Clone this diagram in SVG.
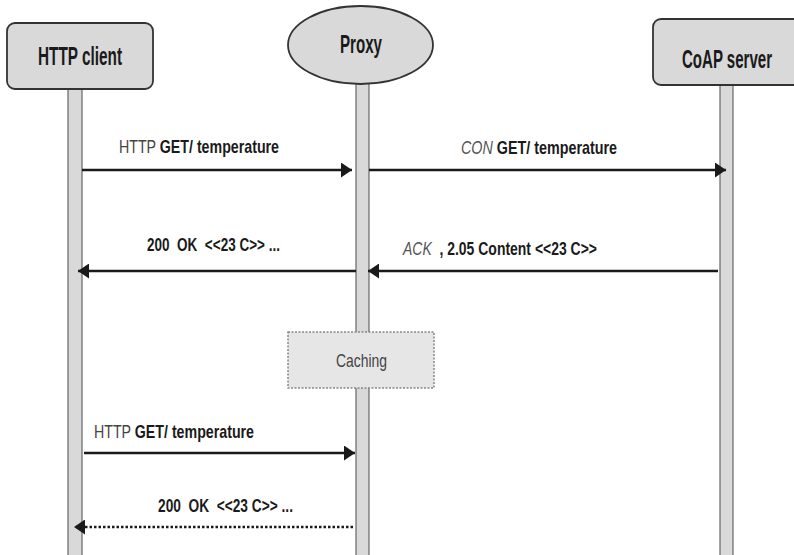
<svg xmlns="http://www.w3.org/2000/svg" width="794" height="555" viewBox="0 0 794 555">
<style>
.lifeline{fill:#d9d9d9;stroke:#666;stroke-width:1.2}
.node{fill:#d9d9d9;stroke:#333;stroke-width:1.8}
.title{font-family:"Liberation Sans",Arial,sans-serif;font-weight:bold;font-size:25px;fill:#1a1a1a}
.lbl{font-family:"Liberation Sans",Arial,sans-serif;font-size:19px;fill:#1a1a1a}
.b{font-weight:bold}
.reg{fill:#444;font-weight:normal}
.it{font-style:italic;fill:#555;font-weight:normal}
.msg{stroke:#1a1a1a;stroke-width:2.5;fill:none;marker-end:url(#ah)}
.dot{stroke-dasharray:2.5 2}
</style>
<defs>
<marker id="ah" markerUnits="userSpaceOnUse" markerWidth="11" markerHeight="15" refX="11" refY="7.5" orient="auto">
<path d="M0,0 L11,7.5 L0,15 z" fill="#1a1a1a"/>
</marker>
</defs>
<rect width="794" height="555" fill="#fff"/>
<g id="lifelines">
<rect class="lifeline" x="68" y="88" width="14" height="470"/>
<rect class="lifeline" x="356" y="82" width="13" height="476"/>
<rect class="lifeline" x="720" y="84" width="13" height="474"/>
</g>
<g id="http-client">
<rect class="node" x="7" y="23" width="146" height="66" rx="8"/>
<text class="title" x="38" y="65" textLength="84" lengthAdjust="spacingAndGlyphs">HTTP client</text>
</g>
<g id="proxy">
<ellipse class="node" cx="360.5" cy="45" rx="72.5" ry="39"/>
<text class="title" x="340" y="53" textLength="42" lengthAdjust="spacingAndGlyphs">Proxy</text>
</g>
<g id="coap-server">
<rect class="node" x="653" y="19" width="150" height="66" rx="8"/>
<text class="title" x="682" y="68" textLength="90" lengthAdjust="spacingAndGlyphs">CoAP server</text>
</g>
<g id="caching">
<rect x="288" y="332" width="146" height="56" fill="#e6e6e6" stroke="#888" stroke-width="1.5" stroke-dasharray="2 1.5"/>
<text class="lbl reg" x="336" y="367" font-size="20" textLength="51" lengthAdjust="spacingAndGlyphs">Caching</text>
</g>
<g id="connectors">
<line class="msg" x1="82" y1="170" x2="352" y2="170"/>
<line class="msg" x1="369" y1="170" x2="726" y2="170"/>
<line class="msg" x1="356" y1="271" x2="78" y2="271"/>
<line class="msg" x1="718" y1="271" x2="368" y2="271"/>
<line class="msg" x1="84" y1="453" x2="355" y2="453"/>
<line class="msg dot" x1="353" y1="527" x2="74" y2="527"/>
</g>
<g id="labels">
<text class="lbl b" x="119" y="153" textLength="160" lengthAdjust="spacingAndGlyphs"><tspan class="reg">HTTP </tspan>GET/ temperature</text>
<text class="lbl b" x="461" y="154" textLength="156" lengthAdjust="spacingAndGlyphs"><tspan class="it">CON </tspan>GET/ temperature</text>
<text class="lbl b" x="147" y="251" textLength="133" lengthAdjust="spacingAndGlyphs" xml:space="preserve">200  OK  &lt;&lt;23 C&gt;&gt; ...</text>
<text class="lbl b" x="403" y="255" textLength="194" lengthAdjust="spacingAndGlyphs" xml:space="preserve"><tspan class="it">ACK  </tspan>, 2.05 Content &lt;&lt;23 C&gt;&gt;</text>
<text class="lbl b" x="94" y="438" textLength="160" lengthAdjust="spacingAndGlyphs"><tspan class="reg">HTTP </tspan>GET/ temperature</text>
<text class="lbl b" x="158" y="512" textLength="135" lengthAdjust="spacingAndGlyphs" xml:space="preserve">200  OK  &lt;&lt;23 C&gt;&gt; ...</text>
</g>
</svg>
